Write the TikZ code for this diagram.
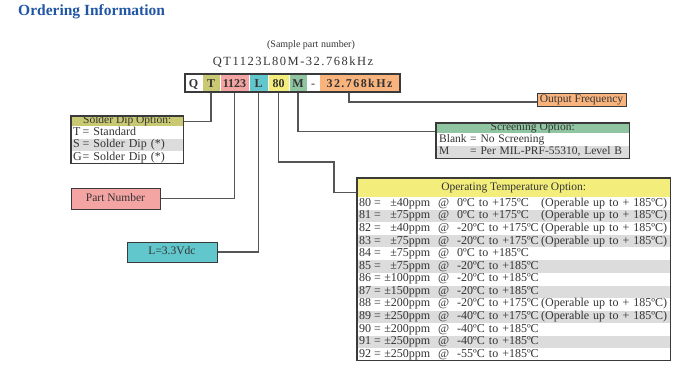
\documentclass[tikz,border=0pt]{standalone}
\usepackage{fontspec}
\setmainfont{Liberation Serif}
\definecolor{titleblue}{HTML}{2156A5}
\definecolor{txt}{HTML}{333333}
\definecolor{frm}{HTML}{3A3A3A}
\definecolor{cn}{HTML}{555555}
\definecolor{olive}{HTML}{C8C972}
\definecolor{pinkc}{HTML}{F4A4A2}
\definecolor{cyanc}{HTML}{62C7CC}
\definecolor{yel}{HTML}{F3EE7C}
\definecolor{grn}{HTML}{8FC6A1}
\definecolor{orng}{HTML}{F9B47E}
\definecolor{rowgray}{HTML}{DCDCDC}
\newcommand\tmprow[4]{\makebox[\linewidth][l]{\makebox[15pt][l]{#1}\makebox[10pt][l]{=}\makebox[46pt][r]{#2}\hspace{8pt}\makebox[19pt][l]{@}\makebox[84pt][l]{#3}#4}}
\newcommand\srow[3]{\makebox[\linewidth][l]{\makebox[#1][l]{#2}#3}}
\begin{document}
\begin{tikzpicture}[x=1pt,y=-1pt,
  every node/.style={text=txt},
  fs/.style={font=\fontsize{11.5}{12}\selectfont},
  fr/.style={font=\fontsize{12}{12}\selectfont},
  cell/.style={inner sep=0, minimum height=18pt, text height=8.5pt, text depth=0pt, draw=white, line width=1pt, font=\bfseries\fontsize{12}{12}\selectfont},
  hdr/.style={fs, anchor=north west, inner sep=0, text height=7.5pt, text depth=2.3pt, minimum width=#1},
  tabrow/.style={fr, anchor=north west, inner xsep=2pt, inner ysep=0, text height=8pt, text depth=2.6pt, text width=#1, align=left},
  lbl/.style={fs, draw=frm, line width=1pt, inner sep=0, text height=8pt, text depth=2.5pt},
  frame/.style={draw=frm, line width=1.1pt},
  conn/.style={draw=cn, line width=1.2pt}]
\useasboundingbox (0,0) rectangle (693,372);

% title
\node[anchor=west, inner sep=0, text=titleblue, font=\bfseries\fontsize{15.5}{16}\selectfont] (title) at (18,12) {Ordering Information};

% sample part number
\node[inner sep=0, font=\fontsize{10}{10}\selectfont] (sample) at (311,45) {(Sample part number)};
\node[inner sep=0, font=\addfontfeature{LetterSpace=12}\fontsize{12.5}{12.5}\selectfont] (pn) at (293,62) {QT1123L80M-32.768kHz};

% part number bar
\node[cell, fill=white, minimum width=17pt] (cQ) at (193.5,83) {Q};
\node[cell, fill=olive, minimum width=18pt] (cT) at (211,83) {T};
\node[cell, fill=pinkc, minimum width=29pt] (c1123) at (234.5,83) {1123};
\node[cell, fill=cyanc, minimum width=19pt] (cL) at (258.5,83) {L};
\node[cell, fill=yel, minimum width=21pt] (c80) at (278.5,83) {80};
\node[cell, fill=grn, minimum width=18pt] (cM) at (298,83) {M};
\node[cell, fill=white, minimum width=12pt] (cD) at (313,83) {\mdseries -};
\node[cell, fill=orng, minimum width=81pt, font=\bfseries\addfontfeature{LetterSpace=12}\fontsize{12}{12}\selectfont] (cK) at (359.5,83) {32.768kHz};
\draw[frame] (185,74) rectangle (400,92);

% boxes
\node[hdr=112pt, fill=olive, minimum height=10pt] (sdh) at (71,116) {\hfill Solder Dip Option:\hfill\null};
\node[lbl, fill=pinkc, minimum width=89pt, minimum height=21pt] (pnum) at (115.5,198.5) {Part Number};
\node[lbl, fill=cyanc, minimum width=90pt, minimum height=20pt] (lbox) at (172,252) {L=3.3Vdc};
\node[lbl, fill=orng, minimum width=89pt, minimum height=13pt] (out) at (581.5,99.5) {Output Frequency};
\node[hdr=193pt, fill=grn, minimum height=10pt] (scrh) at (436,123) {\hfill Screening Option:\hfill\null};
\node[hdr=313pt, fill=yel, minimum height=19pt] (tmh) at (357,178) {\hfill Operating Temperature Option:\hfill\null};

% connectors
\coordinate (k80) at (334,162);
\draw[conn] (cT.south) |- (sdh.east);
\draw[conn] (c1123.south) |- (pnum.east);
\draw[conn] (cL.south) |- (lbox.east);
\draw[conn] (c80.south) |- (k80) |- ([yshift=-4.5pt]tmh.west);
\draw[conn] (cM.south) |- ([yshift=-3pt]scrh.west);
\draw[conn] ([xshift=-10.5pt]cK.south) |- ([yshift=-2.5pt]out.west);

% solder dip table
\node[tabrow=108pt, fill=white, minimum height=12pt] (s1) at (sdh.south west) {\srow{9.5pt}{T}{= Standard}};
\node[tabrow=108pt, fill=rowgray, minimum height=12pt] (s2) at (s1.south west) {\srow{9.5pt}{S}{= Solder Dip (*)}};
\node[tabrow=108pt, fill=white, minimum height=12pt] (s3) at (s2.south west) {\srow{9.5pt}{G}{= Solder Dip (*)}};
\draw[frame] (sdh.north west) rectangle (s3.south east);

% screening table
\node[tabrow=187pt, fs, inner xsep=3pt, fill=white, minimum height=12pt] (r1) at (scrh.south west) {\srow{31pt}{Blank}{= No Screening}};
\node[tabrow=187pt, fs, inner xsep=3pt, fill=rowgray, minimum height=12pt] (r2) at (r1.south west) {\srow{31pt}{M}{= Per MIL-PRF-55310, Level B}};
\draw[frame] (scrh.north west) rectangle (r2.south east);

% temperature table
\node[tabrow=309pt, fill=white, minimum height=12.17pt] (t80) at (tmh.south west) {\tmprow{80}{±40ppm}{0ºC to +175ºC}{(Operable up to + 185ºC)}};
\node[tabrow=309pt, fill=rowgray, minimum height=12.17pt] (t81) at (t80.south west) {\tmprow{81}{±75ppm}{0ºC to +175ºC}{(Operable up to + 185ºC)}};
\node[tabrow=309pt, fill=white, minimum height=12.17pt] (t82) at (t81.south west) {\tmprow{82}{±40ppm}{-20ºC to +175ºC}{(Operable up to + 185ºC)}};
\node[tabrow=309pt, fill=rowgray, minimum height=12.17pt] (t83) at (t82.south west) {\tmprow{83}{±75ppm}{-20ºC to +175ºC}{(Operable up to + 185ºC)}};
\node[tabrow=309pt, fill=white, minimum height=12.17pt] (t84) at (t83.south west) {\tmprow{84}{±75ppm}{0ºC to +185ºC}{}};
\node[tabrow=309pt, fill=rowgray, minimum height=12.17pt] (t85) at (t84.south west) {\tmprow{85}{±75ppm}{-20ºC to +185ºC}{}};
\node[tabrow=309pt, fill=white, minimum height=12.17pt] (t86) at (t85.south west) {\tmprow{86}{±100ppm}{-20ºC to +185ºC}{}};
\node[tabrow=309pt, fill=rowgray, minimum height=12.17pt] (t87) at (t86.south west) {\tmprow{87}{±150ppm}{-20ºC to +185ºC}{}};
\node[tabrow=309pt, fill=white, minimum height=12.17pt] (t88) at (t87.south west) {\tmprow{88}{±200ppm}{-20ºC to +175ºC}{(Operable up to + 185ºC)}};
\node[tabrow=309pt, fill=rowgray, minimum height=12.17pt] (t89) at (t88.south west) {\tmprow{89}{±250ppm}{-40ºC to +175ºC}{(Operable up to + 185ºC)}};
\node[tabrow=309pt, fill=white, minimum height=12.17pt] (t90) at (t89.south west) {\tmprow{90}{±200ppm}{-40ºC to +185ºC}{}};
\node[tabrow=309pt, fill=rowgray, minimum height=12.17pt] (t91) at (t90.south west) {\tmprow{91}{±250ppm}{-40ºC to +185ºC}{}};
\node[tabrow=309pt, fill=white, minimum height=12.17pt] (t92) at (t91.south west) {\tmprow{92}{±250ppm}{-55ºC to +185ºC}{}};
\draw[frame] (tmh.north west) rectangle (t92.south east);
\end{tikzpicture}
\end{document}
